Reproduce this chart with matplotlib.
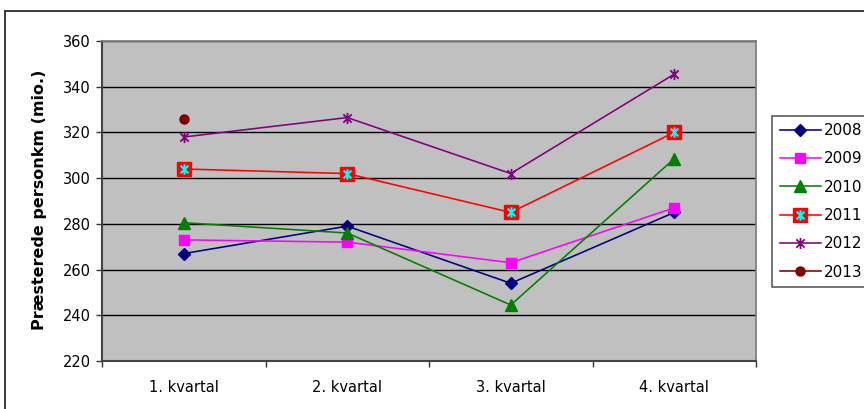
import matplotlib
matplotlib.use("Agg")
import matplotlib.pyplot as plt
from matplotlib.lines import Line2D
from matplotlib.path import Path
from matplotlib.legend_handler import HandlerTuple

plt.rcParams['font.family'] = ['DejaVu Sans']

quarters = ["1. kvartal", "2. kvartal", "3. kvartal", "4. kvartal"]
y2008 = [267, 279, 254, 285]
y2009 = [273, 272, 263, 287]
y2010 = [280.5, 276, 244.5, 308.5]
y2011 = [304, 302, 285, 320]
y2012 = [318, 326.5, 302, 345.5]
y2013 = [326]
yticks = [220, 240, 260, 280, 300, 320, 340, 360]

W, H = 864, 409
fig = plt.figure(figsize=(W / 100, H / 100), dpi=100)
fig.patch.set_facecolor("white")

# outer chart frame (left and top edges visible)
fig.add_artist(Line2D([5 / W, 5 / W], [0, 1 - 11 / H], color="#3a3a3a", lw=1.4))
fig.add_artist(Line2D([5 / W, 1], [1 - 11 / H, 1 - 11 / H], color="#3a3a3a", lw=1.4))

ax = fig.add_axes([102 / W, 1 - 361 / H, (756 - 102) / W, (361 - 41) / H])
ax.set_facecolor("#C0C0C0")

x = list(range(len(quarters)))

# six-armed asterisk: vertical bar plus two diagonals
star = Path([(0, -1), (0, 1), (-0.75, -0.75), (0.75, 0.75), (-0.75, 0.75), (0.75, -0.75)],
            [Path.MOVETO, Path.LINETO, Path.MOVETO, Path.LINETO, Path.MOVETO, Path.LINETO])

lw = 1.15
h08, = ax.plot(x, y2008, color="#000080", lw=lw, marker="D", ms=6, mec="#000080", mfc="#000080")
h09, = ax.plot(x, y2009, color="#FF00FF", lw=lw, marker="s", ms=7.5, mec="#FF00FF", mfc="#FF00FF")
h10, = ax.plot(x, y2010, color="#008000", lw=lw, marker="^", ms=8.5, mec="#008000", mfc="#008000")
h11a, = ax.plot(x, y2011, color="#FF0000", lw=lw, marker="s", ms=10, mec="#FF0000", mfc="#FF0000")
h11b, = ax.plot(x, y2011, ls="none", marker=star, ms=7.5, mec="#00FFFF", mew=1.5)
h12, = ax.plot(x, y2012, color="#800080", lw=lw, marker=star, ms=8, mec="#800080", mew=1.3)
h13, = ax.plot(x[:len(y2013)], y2013, color="#800000", lw=lw, marker="o", ms=6.5,
               mec="#800000", mfc="#800000")

ax.set_xlim(-0.5, len(quarters) - 0.5)
ax.set_ylim(220, 360)
ax.set_yticks(yticks)
ax.set_yticklabels([str(v) for v in yticks])
ax.yaxis.grid(True, color="black", lw=1.0)
ax.set_axisbelow(True)

ax.set_xticks(x)
ax.set_xticklabels(quarters)
ax.set_xticks([i + 0.5 for i in range(-1, len(quarters))], minor=True)
ax.tick_params(axis="x", which="major", length=0, pad=14, labelsize=10.5)
ax.tick_params(axis="x", which="minor", length=4, width=1, color="#333333")
ax.tick_params(axis="y", length=4, width=1, color="#333333", pad=4, labelsize=10.5)

for side in ("top", "right"):
    ax.spines[side].set_color("#808080")
    ax.spines[side].set_linewidth(1.3)
for side in ("left", "bottom"):
    ax.spines[side].set_color("#444444")
    ax.spines[side].set_linewidth(1.5)

fig.text(40 / W, 1 - 200 / H, "Præsterede personkm (mio.)", rotation=90,
         ha="center", va="center", fontsize=11.5, fontweight="bold")

leg = fig.legend([h08, h09, h10, (h11a, h11b), h12, h13],
                 ["2008", "2009", "2010", "2011", "2012", "2013"],
                 handler_map={tuple: HandlerTuple(ndivide=1)},
                 loc="upper left", bbox_to_anchor=(772 / W, 1 - 115.5 / H),
                 frameon=True, fancybox=False, fontsize=11, handlelength=2.7,
                 handletextpad=0.22, labelspacing=0.87, borderpad=0.5,
                 borderaxespad=0)
leg.get_frame().set_edgecolor("#333333")
leg.get_frame().set_linewidth(1.2)

fig.savefig("out.png", dpi=100, facecolor="white")
